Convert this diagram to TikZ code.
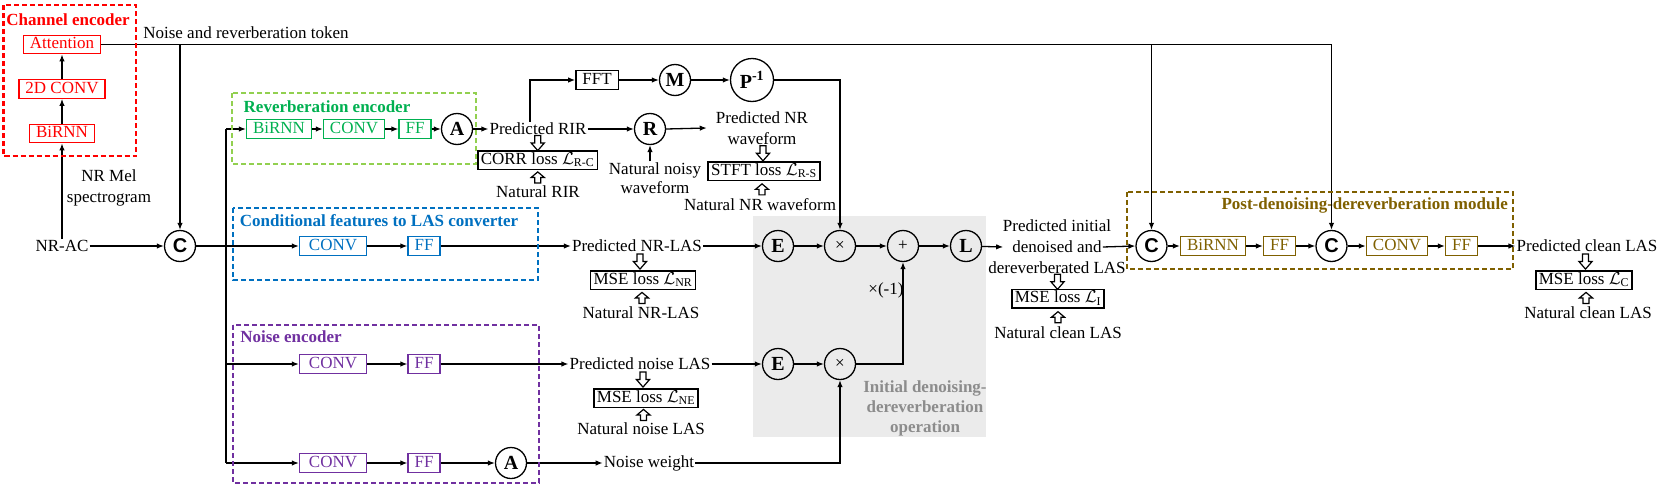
\documentclass[tikz,border=0pt]{standalone}
\usepackage{fontspec}
\setmainfont{Liberation Serif}
\newfontfamily\cfont{Liberation Sans}
\usetikzlibrary{arrows.meta,calc}
\definecolor{cred}{RGB}{255,0,0}
\definecolor{cgreenl}{RGB}{146,208,80}
\definecolor{cgreen}{RGB}{0,176,80}
\definecolor{cblue}{RGB}{0,112,192}
\definecolor{cpurple}{RGB}{112,48,160}
\definecolor{cbrown}{RGB}{127,96,0}
\definecolor{cgrayfill}{RGB}{235,235,235}
\definecolor{cgraytxt}{RGB}{140,140,140}
\tikzset{
  base/.style={font=\fontsize{17pt}{21pt}\selectfont},
  txt/.style={base, inner sep=1pt, align=center},
  cbox/.style={base, draw=#1, text=#1, line width=1.3pt, inner xsep=6.5pt, inner ysep=1.5pt, text height=12pt, text depth=3.5pt},
  lbox/.style={base, draw, line width=1.5pt, inner xsep=3pt, inner ysep=1.5pt, text height=12pt, text depth=3.5pt},
  op/.style={circle, draw, line width=1.3pt, minimum size=31pt, inner sep=0pt, font=\fontsize{20pt}{24pt}\selectfont\bfseries},
  opn/.style={op, font=\fontsize{17pt}{21pt}\selectfont},
  module/.style={draw=#1, line width=2.9pt, dash pattern=on 5pt off 3pt},
  title/.style={text=#1, font=\fontsize{17pt}{21pt}\selectfont\bfseries, inner sep=0pt},
  arr/.style={line width=1.3pt, -{Latex[length=7pt,width=5.5pt]}},
  ln/.style={line width=1.3pt},
  hdown/.pic={\draw[line width=1.2pt, fill=white] (-3,-7.5) -- (3,-7.5) -- (3,0) -- (6.5,0) -- (0,7.5) -- (-6.5,0) -- (-3,0) -- cycle;},
  hup/.pic={\draw[line width=1.2pt, fill=white] (-3,5.5) -- (3,5.5) -- (3,0) -- (6.5,0) -- (0,-5.5) -- (-6.5,0) -- (-3,0) -- cycle;}
}
\begin{document}
\begin{tikzpicture}[x=1pt,y=-1pt]
\useasboundingbox (0,0) rectangle (1660,490);
% gray operation area
\fill[cgrayfill] (753,216) rectangle (986,437);
\node[title=cgraytxt, align=center, font=\fontsize{17pt}{20pt}\selectfont\bfseries] (glbl) at (925,408) {Initial denoising-\\dereverberation\\operation};

% ---------- channel encoder ----------
\node[title=cred] (chtitle) at (68,20) {Channel encoder};
\node[cbox=cred] (att) at (62,44.5) {Attention};
\node[cbox=cred] (conv2d) at (62,89) {2D CONV};
\node[cbox=cred] (birnnR) at (62,133.5) {BiRNN};
\node[txt] (nrac) at (62,246) {NR-AC};
\node[txt] (nrmel) at (109,187.5) {NR Mel\\spectrogram};
\node[txt] (token) at (246,33) {Noise and reverberation token};

% ---------- reverberation encoder ----------
\node[title=cgreen] (retitle) at (327,107) {Reverberation encoder};
\node[cbox=cgreen] (birnnG) at (279,129) {BiRNN};
\node[cbox=cgreen] (convG) at (354,129) {CONV};
\node[cbox=cgreen] (ffG) at (415,129) {FF};
\node[op] (aG) at (457,129) {A};
\node[txt] (rir) at (538,129) {Predicted RIR};
\node[lbox] (corr) at (537.5,160) {CORR loss $\mathcal{L}$\textsubscript{R-C}};
\node[txt] (natrir) at (538,192) {Natural RIR};
\node[cbox=black] (fft) at (597,80) {FFT};
\node[op] (mm) at (675,80) {M};
\node[op, minimum size=43pt] (pinv) at (752,80) {P\textsuperscript{-1}};
\node[op] (rr) at (650,129) {R};
\node[txt] (nrw) at (762,128) {Predicted NR\\waveform};
\node[txt, font=\fontsize{17pt}{19pt}\selectfont] (nnw) at (655,178) {Natural noisy\\waveform};
\node[lbox] (stft) at (764,171) {STFT loss $\mathcal{L}$\textsubscript{R-S}};
\node[txt] (natnrw) at (760,205) {Natural NR waveform};

% ---------- conditional features ----------
\node[op] (cmain) at (180,246) {\cfont\bfseries C};
\node[title=cblue] (cftitle) at (379,221) {Conditional features to LAS converter};
\node[cbox=cblue, minimum width=67pt] (convB) at (333,246) {CONV};
\node[cbox=cblue] (ffB) at (424,246) {FF};
\node[txt] (nrlas) at (637,246) {Predicted NR-LAS};
\node[lbox] (mseNR) at (643,280) {MSE loss $\mathcal{L}$\textsubscript{NR}};
\node[txt] (natnrlas) at (641,313) {Natural NR-LAS};

% ---------- initial operation ----------
\node[op] (e1) at (778,246) {E};
\node[opn] (mul1) at (840,246) {×};
\node[opn] (plus) at (903,246) {+};
\node[op] (ll) at (966,246) {L};
\node[txt] (pinit1) at (1057,226) {Predicted initial};
\node[txt] (pinit2) at (1057,247) {denoised and};
\node[txt] (pinit3) at (1057,268) {dereverberated LAS};
\node[lbox] (mseI) at (1058,298.5) {MSE loss $\mathcal{L}$\textsubscript{I}};
\node[txt] (natcl1) at (1058,333) {Natural clean LAS};
\node[txt] (m1) at (886,290) {×(-1)};

% ---------- post module ----------
\node[op] (c1) at (1151.5,246) {\cfont\bfseries C};
\node[cbox=cbrown] (birnnP) at (1213,246) {BiRNN};
\node[cbox=cbrown] (ffP1) at (1279.5,246) {FF};
\node[op] (c2) at (1331.5,246) {\cfont\bfseries C};
\node[cbox=cbrown] (convP) at (1397,246) {CONV};
\node[cbox=cbrown] (ffP2) at (1461.5,246) {FF};
\node[title=cbrown, anchor=east] (posttitle) at (1508,205) {Post-denoising-dereverberation module};
\node[txt] (pclean) at (1587,246) {Predicted clean LAS};
\node[lbox] (mseC) at (1584,280) {MSE loss $\mathcal{L}$\textsubscript{C}};
\node[txt] (natcl2) at (1588,313) {Natural clean LAS};

% ---------- noise encoder ----------
\node[title=cpurple] (netitle) at (291,337) {Noise encoder};
\node[cbox=cpurple, minimum width=67pt] (convN1) at (333,364) {CONV};
\node[cbox=cpurple] (ffN1) at (424,364) {FF};
\node[cbox=cpurple, minimum width=67pt] (convN2) at (333,463) {CONV};
\node[cbox=cpurple] (ffN2) at (424,463) {FF};
\node[op] (aN) at (511,463) {A};
\node[txt] (pnoise) at (640,364) {Predicted noise LAS};
\node[lbox] (mseNE) at (646,398) {MSE loss $\mathcal{L}$\textsubscript{NE}};
\node[txt] (natnoise) at (641,429) {Natural noise LAS};
\node[txt] (noisew) at (649,463) {Noise weight};
\node[op] (e2) at (778,364) {E};
\node[opn] (mul2) at (840,364) {×};

% ---------- trunk coordinates ----------
\coordinate (tTop) at (226,129);
\coordinate (tN1) at (226,364);
\coordinate (tN2) at (226,463);

% ---------- connectors ----------
\draw[arr] (birnnR) -- (conv2d);
\draw[arr] (conv2d) -- (att);
\draw[arr] (nrac.north) -- (birnnR.south);
\draw[arr] (nrac.east) -- (cmain.west);
\draw[arr] (att.east) -| (c2.north);
\draw[arr] (att.east -| cmain) -- (cmain.north);
\draw[arr] (att.east -| c1) -- (c1.north);

\draw[ln] (tTop) -- (tN2);
\draw[arr] (tTop) -- (birnnG.west);
\draw[arr] (tN1) -- (convN1.west);
\draw[arr] (tN2) -- (convN2.west);
\draw[arr] (cmain.east) -- (convB.west);

\draw[arr] (birnnG) -- (convG);
\draw[arr] (convG) -- (ffG);
\draw[arr] (ffG) -- (aG);
\draw[arr] (aG) -- (rir.west);
\draw[arr] ([xshift=-8pt]rir.north) |- (fft.west);
\draw[arr] (fft) -- (mm);
\draw[arr] (mm) -- (pinv);
\draw[arr] (pinv.east) -| (mul1.north);
\draw[arr] (rir.east) -- (rr.west);
\draw[arr] (rr.east) -- ([xshift=-8pt]nrw.west);
\draw[arr] (nnw.north -| rr) -- (rr.south);

\draw[arr] (convB) -- (ffB);
\draw[arr] (ffB) -- (nrlas.west);
\draw[arr] (nrlas.east) -- (e1.west);
\draw[arr] (e1) -- (mul1);
\draw[arr] (mul1) -- (plus);
\draw[arr] (plus) -- (ll);
\draw[arr] (ll) -- ([xshift=-8pt]pinit2.west);
\draw[arr] (pinit2.east) -- (c1.west);

\draw[arr] (c1) -- (birnnP);
\draw[arr] (birnnP) -- (ffP1);
\draw[arr] (ffP1) -- (c2);
\draw[arr] (c2) -- (convP);
\draw[arr] (convP) -- (ffP2);
\draw[arr] (ffP2) -- (pclean.west);

\draw[arr] (convN1) -- (ffN1);
\draw[arr] (ffN1) -- (pnoise.west);
\draw[arr] (pnoise.east) -- (e2.west);
\draw[arr] (e2) -- (mul2);
\draw[arr] (mul2.east) -| (plus.south);
\draw[arr] (convN2) -- (ffN2);
\draw[arr] (ffN2) -- (aN);
\draw[arr] (aN) -- (noisew.west);
\draw[arr] (noisew.east) -| (mul2.south);

% ---------- hollow arrows ----------
\pic at ($(rir.south)!.5!(corr.north)$) {hdown};
\pic at ($(natrir.north)!.5!(corr.south)$) {hup};
\pic at ($(nrw.south)!.5!(stft.north)$) {hdown};
\pic at ($(natnrw.north)!.5!(stft.south)$) {hup};
\pic at ($(nrlas.south)!.5!(mseNR.north)$) {hdown};
\pic at ($(natnrlas.north)!.5!(mseNR.south)$) {hup};
\pic at ($(pinit3.south)!.5!(mseI.north)$) {hdown};
\pic at ($(natcl1.north)!.5!(mseI.south)$) {hup};
\pic at ($(pclean.south)!.5!(mseC.north)$) {hdown};
\pic at ($(natcl2.north)!.5!(mseC.south)$) {hup};
\pic at ($(pnoise.south)!.5!(mseNE.north)$) {hdown};
\pic at ($(natnoise.north)!.5!(mseNE.south)$) {hup};

% ---------- module frames ----------
\draw[module=cred] (3.5,5) rectangle (136,156);
\draw[module=cgreenl] (232,93) rectangle (476,164);
\draw[module=cblue] (233,208) rectangle (538,280);
\draw[module=cpurple] (233,325) rectangle (539,483);
\draw[module=cbrown] (1127,192) rectangle (1513,269);
\end{tikzpicture}
\end{document}
